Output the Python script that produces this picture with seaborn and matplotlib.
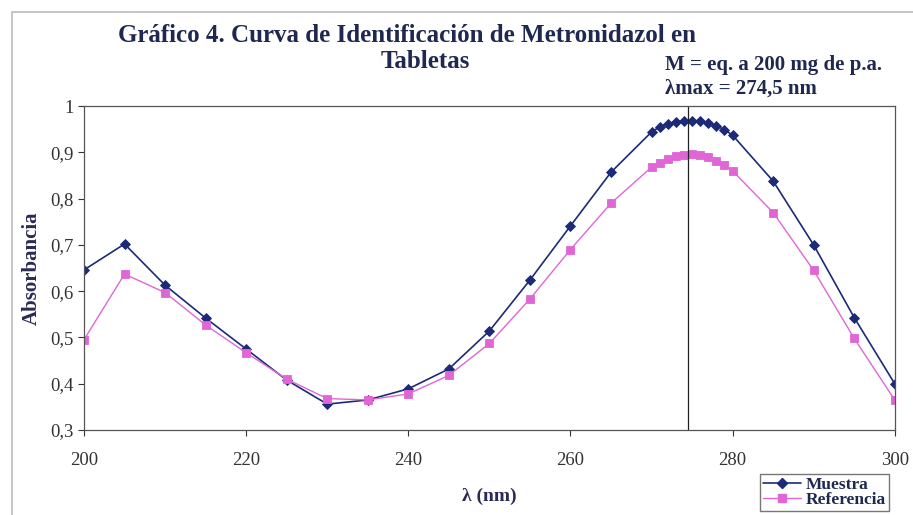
import matplotlib
matplotlib.use("Agg")
import matplotlib.pyplot as plt
import seaborn as sns
import pandas as pd
from matplotlib.lines import Line2D

wavelengths = [200, 205, 210, 215, 220, 225, 230, 235, 240, 245, 250, 255, 260, 265,
               270, 271, 272, 273, 274, 275, 276, 277, 278, 279, 280, 285, 290, 295, 300]
muestra = [0.646, 0.702, 0.613, 0.542, 0.475, 0.408, 0.356, 0.365, 0.389, 0.432, 0.514,
           0.624, 0.741, 0.857, 0.944, 0.955, 0.962, 0.966, 0.968, 0.968, 0.967, 0.963,
           0.957, 0.949, 0.937, 0.838, 0.700, 0.543, 0.400]
referencia = [0.495, 0.637, 0.597, 0.527, 0.467, 0.410, 0.368, 0.365, 0.378, 0.418, 0.487,
              0.583, 0.690, 0.790, 0.868, 0.878, 0.886, 0.892, 0.895, 0.896, 0.894, 0.889,
              0.882, 0.872, 0.860, 0.770, 0.645, 0.498, 0.365]
series_names = ["Muestra", "Referencia"]
lambda_max = 274.5
x_ticks = [200, 220, 240, 260, 280, 300]
y_ticks = [0.3, 0.4, 0.5, 0.6, 0.7, 0.8, 0.9, 1.0]
y_labels = ["0,3", "0,4", "0,5", "0,6", "0,7", "0,8", "0,9", "1"]

df = pd.concat([
    pd.DataFrame({"nm": wavelengths, "abs": muestra, "serie": series_names[0]}),
    pd.DataFrame({"nm": wavelengths, "abs": referencia, "serie": series_names[1]}),
])

sns.set_style("white")
plt.rcParams["font.family"] = ["Liberation Serif", "DejaVu Serif"]

fig = plt.figure(figsize=(9.13, 5.15), dpi=100)
ax = fig.add_axes([0.092, 0.165, 0.888, 0.629])

navy = "#1c2a78"
pink = "#e066d6"
sns.lineplot(data=df, x="nm", y="abs", hue="serie", style="serie",
             palette={"Muestra": navy, "Referencia": pink},
             markers={"Muestra": "D", "Referencia": "s"}, dashes=False,
             markersize=6, markeredgewidth=0.6, linewidth=1.2, ax=ax, legend=False)
ax.lines[0].set_markeredgecolor(navy)
ax.lines[1].set_markeredgecolor(pink)
ax.lines[0].set_markersize(5)
ax.lines[1].set_linewidth(1.0)

ax.axvline(lambda_max, color="#222222", lw=0.9)

ax.set_xlim(200, 300)
ax.set_ylim(0.3, 1.0)
ax.set_xticks(x_ticks)
ax.set_yticks(y_ticks)
ax.set_yticklabels(y_labels)
ax.tick_params(axis="both", labelsize=13.5, colors="#333333", length=4, direction="out",
               left=True, bottom=True)
ax.tick_params(axis="x", pad=12)
for sp in ax.spines.values():
    sp.set_color("#555555")
    sp.set_linewidth(0.9)
ax.set_xlabel("λ (nm)", fontsize=14, fontweight="bold", color="#2a2a55", labelpad=13)
ax.set_ylabel("Absorbancia", fontsize=15, fontweight="bold", color="#2a2a55", labelpad=6)

tc = "#1e2850"
fig.text(118 / 913, 1 - 35 / 515, "Gráfico 4. Curva de Identificación de Metronidazol en",
         fontsize=18, fontweight="bold", color=tc, va="center", ha="left")
fig.text(425 / 913, 1 - 62 / 515, "Tabletas", fontsize=18, fontweight="bold", color=tc,
         va="center", ha="center")
fig.text(665 / 913, 1 - 65 / 515, "M = eq. a 200 mg de p.a.", fontsize=15,
         fontweight="bold", color=tc, va="center", ha="left")
fig.text(665 / 913, 1 - 89 / 515, "λmax = 274,5 nm", fontsize=15,
         fontweight="bold", color=tc, va="center", ha="left")

# chart border lines
fig.add_artist(Line2D([12 / 913, 1.0], [1 - 12 / 515, 1 - 12 / 515],
                      transform=fig.transFigure, color="#bbbbbb", lw=1.2))
fig.add_artist(Line2D([12 / 913, 12 / 913], [0, 1 - 12 / 515],
                      transform=fig.transFigure, color="#bbbbbb", lw=1.2))

handles = [Line2D([], [], color=navy, marker="D", markersize=5, lw=1.2),
           Line2D([], [], color=pink, marker="s", markersize=6, lw=1.0)]
leg = fig.legend(handles, series_names, loc="upper left",
                 bbox_to_anchor=(760 / 913, 1 - 474 / 515), frameon=True,
                 prop={"size": 12.5, "weight": "bold"}, handlelength=2.2,
                 borderpad=0.15, labelspacing=-0.05, handletextpad=0.3,
                 borderaxespad=0.0, fancybox=False, edgecolor="#555555")
for t in leg.get_texts():
    t.set_color(tc)

fig.savefig("out.png", dpi=100, facecolor="white")
